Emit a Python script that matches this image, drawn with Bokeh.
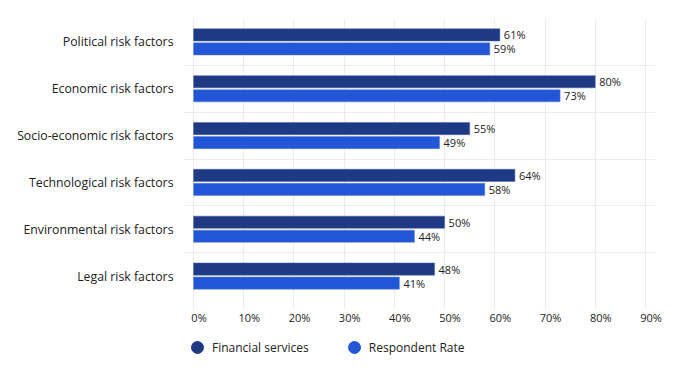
from bokeh.plotting import figure
from bokeh.models import (ColumnDataSource, FixedTicker, Legend, LegendItem, Range1d,
                          LinearAxis, Grid)
from bokeh.layouts import column
from bokeh.core.properties import value
from bokeh.embed import file_html
from bokeh.resources import INLINE

categories = ["Political risk factors", "Economic risk factors", "Socio-economic risk factors",
              "Technological risk factors", "Environmental risk factors", "Legal risk factors"]
financial = [61, 80, 55, 64, 50, 48]
respondent = [59, 73, 49, 58, 44, 41]
x_ticks = [0, 10, 20, 30, 40, 50, 60, 70, 80, 90]
series_names = ["Financial services", "Respondent Rate"]
colors = ["#1f3a85", "#2356d6"]

FONT = "Open Sans"
GRID = "#ececec"
n = len(categories)
centers = [n - i - 0.5 for i in range(n)]
off = 0.15
bh = 0.26
X0, X1 = -2, 92
LAB_SHIFT = 1.1

src_f = ColumnDataSource(dict(y=[c + off for c in centers], v=financial,
                              lab=[f"{v}%" for v in financial]))
src_r = ColumnDataSource(dict(y=[c - off for c in centers], v=respondent,
                              lab=[f"{v}%" for v in respondent]))

p = figure(width=667, height=330, output_backend="svg", toolbar_location=None,
           x_axis_type=None, x_range=Range1d(X0, X1), y_range=Range1d(0, n),
           min_border_left=183, min_border_right=12, min_border_top=18, min_border_bottom=31)
p.outline_line_color = None
p.background_fill_color = "white"
p.extra_x_ranges = {"lab": Range1d(X0 - LAB_SHIFT, X1 - LAB_SHIFT)}

p.hbar(y="y", right="v", left=0, height=bh, source=src_f, fill_color=colors[0],
       line_color="#4a63a8", line_width=0.5)
p.hbar(y="y", right="v", left=0, height=bh, source=src_r, fill_color=colors[1],
       line_color="#5a80e0", line_width=0.5)

for src in (src_f, src_r):
    p.text(x="v", y="y", text="lab", source=src, x_offset=4, text_baseline="middle",
           text_align="left", text_font_size="11px", text_color="#222222",
           text_font=value(FONT))

# x axis: labels sit slightly right of the grid lines (as in the original);
# the minor ticks continue the grid lines below the plot area
lab_axis = LinearAxis(x_range_name="lab",
                      ticker=FixedTicker(ticks=x_ticks,
                                         minor_ticks=[t - LAB_SHIFT for t in x_ticks]),
                      major_label_overrides={t: f"{t}%" for t in x_ticks},
                      axis_line_color=None, major_tick_line_color=None,
                      major_tick_out=0, major_tick_in=0,
                      minor_tick_line_color=GRID, minor_tick_out=10, minor_tick_in=0,
                      major_label_standoff=0,
                      major_label_text_font=FONT, major_label_text_font_size="11px",
                      major_label_text_color="#222222")
p.add_layout(lab_axis, "below")
p.add_layout(Grid(dimension=0, ticker=FixedTicker(ticks=x_ticks), grid_line_color=GRID))

p.yaxis.ticker = FixedTicker(ticks=centers)
p.yaxis.major_label_overrides = {c: cat for c, cat in zip(centers, categories)}
p.yaxis.axis_line_color = None
p.yaxis.major_tick_line_color = None
p.yaxis.major_tick_out = 0
p.yaxis.major_tick_in = 0
p.yaxis.minor_tick_line_color = None
p.yaxis.minor_tick_out = 0
p.yaxis.major_label_standoff = 10
p.yaxis.major_label_text_font = FONT
p.yaxis.major_label_text_font_size = "12.3px"
p.yaxis.major_label_text_color = "#222222"

p.ygrid.ticker = FixedTicker(ticks=list(range(n + 1)))
p.ygrid.grid_line_color = GRID
p.ygrid.bounds = (X0, 90)

# legend figure below (dummy scatter points fall outside its view)
lf = figure(width=667, height=42, output_backend="svg", toolbar_location=None,
            x_range=Range1d(0, 1), y_range=Range1d(0, 1),
            min_border_left=0, min_border_right=0, min_border_top=0, min_border_bottom=0)
lf.axis.visible = False
lf.grid.visible = False
lf.outline_line_color = None
d1 = lf.scatter(x="v", y="y", source=src_f, marker="circle", size=12,
                fill_color=colors[0], line_color=colors[0])
d2 = lf.scatter(x="v", y="y", source=src_r, marker="circle", size=12,
                fill_color=colors[1], line_color=colors[1])
legend = Legend(items=[LegendItem(label=series_names[0], renderers=[d1]),
                       LegendItem(label=series_names[1], renderers=[d2])],
                orientation="horizontal", location=(-1, 10),
                glyph_width=30, glyph_height=30, label_standoff=0, spacing=30,
                padding=0, margin=0, border_line_color=None, background_fill_alpha=0,
                label_text_font=FONT, label_text_font_size="12px", label_text_color="#222222")
lf.add_layout(legend, "center")

layout = column(p, lf, spacing=0)
open("out.html", "w").write(file_html(layout, INLINE))
